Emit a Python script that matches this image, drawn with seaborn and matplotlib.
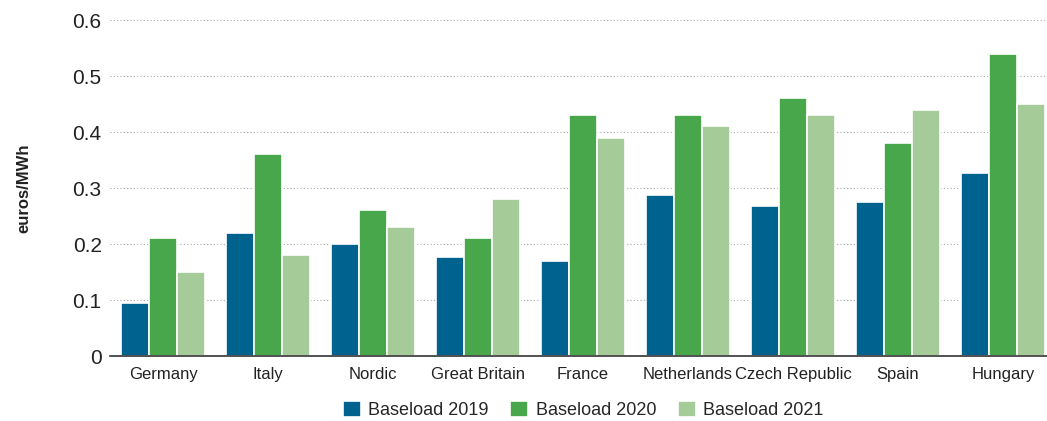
import matplotlib
matplotlib.use("Agg")
import matplotlib.pyplot as plt
import seaborn as sns
import pandas as pd

countries = ["Germany", "Italy", "Nordic", "Great Britain", "France",
             "Netherlands", "Czech Republic", "Spain", "Hungary"]
baseload_2019 = [0.095, 0.22, 0.20, 0.176, 0.169, 0.288, 0.267, 0.275, 0.327]
baseload_2020 = [0.21, 0.36, 0.26, 0.21, 0.43, 0.43, 0.46, 0.38, 0.54]
baseload_2021 = [0.15, 0.18, 0.23, 0.28, 0.39, 0.41, 0.43, 0.44, 0.45]
series_names = ["Baseload 2019", "Baseload 2020", "Baseload 2021"]
colors = ["#00628f", "#48a74a", "#a5cb98"]

df = pd.DataFrame({
    "country": countries * 3,
    "value": baseload_2019 + baseload_2020 + baseload_2021,
    "series": [s for s in series_names for _ in countries],
})

sns.set_theme(style="white")
plt.rcParams["font.family"] = ["Liberation Sans", "DejaVu Sans"]

fig = plt.figure(figsize=(10.47, 4.21), dpi=100)
ax = fig.add_axes([110 / 1047, 1 - 356 / 421, 937 / 1047, 336 / 421])

sns.barplot(data=df, x="country", y="value", hue="series", palette=colors,
            saturation=1, width=0.8, edgecolor="white", linewidth=1.2,
            ax=ax, legend=True)

ax.set_ylim(0, 0.6)
ax.set_yticks([0, 0.1, 0.2, 0.3, 0.4, 0.5, 0.6])
ax.set_yticklabels(["0", "0.1", "0.2", "0.3", "0.4", "0.5", "0.6"],
                   fontsize=15, color="#222222")
ax.set_xlim(-0.505, 8.42)
ax.tick_params(axis="x", labelsize=12, colors="#222222", length=0, pad=8)
ax.tick_params(axis="y", length=0, pad=6)
ax.set_xlabel("")
ax.set_ylabel("euros/MWh", fontsize=12, fontweight="bold", color="#222222", labelpad=30)
ax.yaxis.grid(True, linestyle=(0, (1, 2)), color="#aaaaaa", linewidth=0.8)
ax.set_axisbelow(True)
for s in ["top", "right", "left"]:
    ax.spines[s].set_visible(False)
ax.spines["bottom"].set_color("#333333")
ax.spines["bottom"].set_linewidth(1.2)

handles, labels = ax.get_legend_handles_labels()
ax.legend(handles, labels, loc="center",
          bbox_to_anchor=(0.505, -(410 - 356) / 336), bbox_transform=ax.transAxes,
          ncol=3, frameon=False, fontsize=13, handlelength=1.0, handleheight=1.0,
          columnspacing=1.2, handletextpad=0.4)

fig.savefig("out.png", dpi=100)
